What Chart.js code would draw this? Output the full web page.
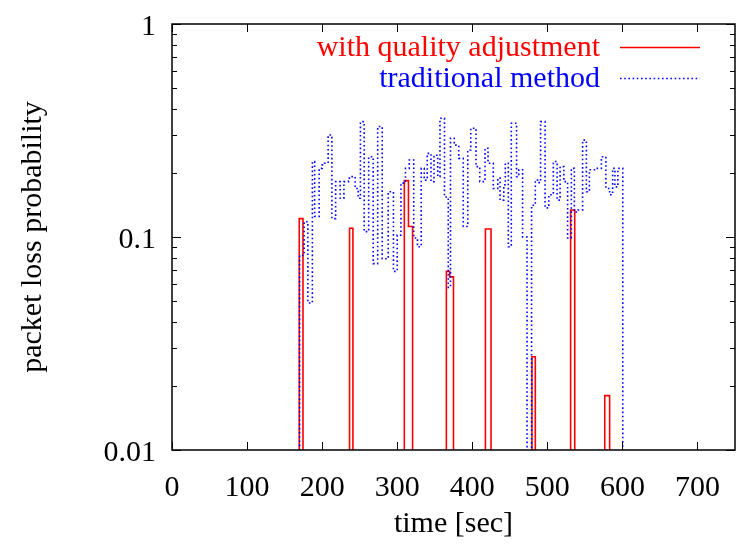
<!DOCTYPE html>
<html>
<head>
<meta charset="utf-8">
<script src="https://cdn.jsdelivr.net/npm/chart.js@4"></script>
<style>
  html, body { margin: 0; padding: 0; background: #fff; }
  #wrap { width: 736px; height: 546px; }
</style>
</head>
<body>
<div id="wrap"><canvas id="myChart" width="736" height="546"></canvas></div>
<script>
/* Data: time [sec] where a step starts, loss probability (0 = no loss) */
const red_start = [169.5, 236.5, 309.5, 315, 365.5, 370, 417.5, 479.5, 531, 576.5];
const red_end   = [174.5, 241, 315, 320.5, 370, 375, 425, 484, 536.5, 583];
const red_loss  = [0.122, 0.110, 0.184, 0.112, 0.069, 0.065, 0.109, 0.0274, 0.134, 0.018];

const blue_time = [170, 176, 181, 187, 190, 196, 200, 203, 208, 213,
                   218, 224, 229, 235, 240, 244, 248, 251, 256, 262,
                   268, 274, 280, 288, 295, 300, 305, 311, 316, 322,
                   327, 332, 336, 340, 345, 349, 354, 357, 363, 368,
                   371, 376, 382, 388, 394, 398, 405, 410, 417, 421,
                   428, 434, 437, 442, 444, 448, 452, 459, 462, 467,
                   473, 479, 484, 487, 491, 497, 502, 508, 513, 517,
                   522, 527, 532, 536, 541, 547, 552, 556, 565, 572,
                   578, 583, 587, 590, 594, 600.5];
const blue_loss = [0.082, 0.118, 0.049, 0.226, 0.125, 0.210, 0.218, 0.222, 0.301, 0.122,
                   0.182, 0.152, 0.182, 0.189, 0.192, 0.169, 0.152, 0.348, 0.106, 0.238,
                   0.075, 0.330, 0.079, 0.163, 0.069, 0.102, 0.179, 0.210, 0.230, 0.099,
                   0.090, 0.210, 0.185, 0.247, 0.182, 0.242, 0.192, 0.361, 0.154, 0.058,
                   0.291, 0.270, 0.234, 0.112, 0.256, 0.324, 0.214, 0.182, 0.261, 0.222,
                   0.169, 0.189, 0.149, 0.176, 0.222, 0.090, 0.342, 0.192, 0.207, 0.100,
                   0, 0.141, 0.185, 0.180, 0.348, 0.137, 0.158, 0.226, 0.149, 0.214,
                   0.182, 0.099, 0.210, 0.131, 0.134, 0.285, 0.163, 0.207, 0.210, 0.238,
                   0.169, 0.158, 0.210, 0.172, 0.210, 0];

const x_ticks = [0, 100, 200, 300, 400, 500, 600, 700];
const y_ticks = [0.01, 0.1, 1];
const y_tick_labels = ["0.01", "0.1", "1"];
const series_names = ["with quality adjustment", "traditional method"];

const FLOOR = 0.001; // stands in for 0 on the log axis, below the frame
const SERIF = "'Liberation Serif', 'DejaVu Serif', serif";

function redPoints(){
    let pts = [{x: 0, y: FLOOR}];
    for (let i = 0; i < red_start.length; i++){
        pts.push({x: red_start[i], y: red_loss[i]});
        if (i === red_start.length - 1 || red_start[i + 1] !== red_end[i]){
            pts.push({x: red_end[i], y: FLOOR});
        }
    }
    pts.push({x: 750, y: FLOOR});
    return pts;
}

function bluePoints(){
    let pts = [{x: 0, y: FLOOR}];
    for (let i = 0; i < blue_time.length; i++){
        pts.push({x: blue_time[i], y: blue_loss[i] || FLOOR});
    }
    pts.push({x: 750, y: FLOOR});
    return pts;
}

/* frame, inward ticks on all four sides and the gnuplot style key */
const frameTicks = {
    id: "frameTicks",
    afterDraw(chart){
        const {ctx, chartArea: a, scales: {x, y}} = chart;
        ctx.save();
        ctx.strokeStyle = "#000";
        ctx.lineWidth = 1;
        ctx.beginPath();
        x_ticks.forEach((v) => {
            const px = Math.round(x.getPixelForValue(v)) + 0.5;
            ctx.moveTo(px, a.bottom); ctx.lineTo(px, a.bottom - 8);
            ctx.moveTo(px, a.top); ctx.lineTo(px, a.top + 8);
        });
        for (let d = 0; d < y_ticks.length; d++){
            for (let m = 1; m <= 9; m++){
                if (d === y_ticks.length - 1 && m > 1) break;
                const py = Math.round(y.getPixelForValue(y_ticks[d] * m)) + 0.5;
                const len = m === 1 ? 9 : 5;
                ctx.moveTo(a.left, py); ctx.lineTo(a.left + len, py);
                ctx.moveTo(a.right, py); ctx.lineTo(a.right - len, py);
            }
        }
        ctx.stroke();
        ctx.lineWidth = 1.5;
        ctx.strokeRect(a.left, a.top, a.right - a.left, a.bottom - a.top);

        // key
        const rows = [47, 78];
        ctx.font = "30px " + SERIF;
        ctx.textAlign = "right";
        ctx.textBaseline = "middle";
        chart.data.datasets.forEach((d) => {
            const ry = rows[d.keyRow];
            ctx.fillStyle = d.borderColor;
            ctx.fillText(d.label, 600, ry + 1);
            ctx.strokeStyle = d.borderColor;
            ctx.lineWidth = d.borderWidth;
            ctx.setLineDash(d.borderDash || []);
            ctx.beginPath();
            ctx.moveTo(620, ry + 0.5);
            ctx.lineTo(700, ry + 0.5);
            ctx.stroke();
            ctx.setLineDash([]);
        });
        ctx.restore();
    }
};

const config = {
    type: "line",
    data: {
        datasets: [
            {
                label: series_names[1],
                keyRow: 1,
                data: bluePoints(),
                borderColor: "#0000ff",
                borderWidth: 1.6,
                borderDash: [1.6, 2.6],
                stepped: true,
                pointRadius: 0,
                fill: false,
            },
            {
                label: series_names[0],
                keyRow: 0,
                data: redPoints(),
                borderColor: "#ff0000",
                borderWidth: 1.6,
                stepped: true,
                pointRadius: 0,
                fill: false,
            },
        ],
    },
    options: {
        responsive: false,
        animation: false,
        events: [],
        layout: { padding: { top: 24, right: 1, left: 0, bottom: 0 } },
        plugins: { legend: { display: false }, tooltip: { enabled: false } },
        scales: {
            x: {
                type: "linear",
                min: 0,
                max: 750,
                afterBuildTicks: (s) => { s.ticks = x_ticks.map((v) => ({value: v})); },
                afterFit: (s) => { s.height = 96; s.paddingLeft = 0; s.paddingRight = 0; },
                grid: { display: false, drawTicks: false },
                border: { display: false },
                ticks: {
                    maxRotation: 0,
                    padding: 20,
                    color: "#000",
                    font: { family: SERIF, size: 30 },
                },
                title: {
                    display: true,
                    text: "time [sec]",
                    color: "#000",
                    font: { family: SERIF, size: 30 },
                    padding: { top: 0, bottom: 4 },
                },
            },
            y: {
                type: "logarithmic",
                min: 0.01,
                max: 1,
                afterBuildTicks: (s) => { s.ticks = y_ticks.map((v) => ({value: v, major: true})); },
                afterFit: (s) => { s.width = 172; s.paddingTop = 0; s.paddingBottom = 0; },
                grid: { display: false, drawTicks: false },
                border: { display: false },
                ticks: {
                    padding: 16,
                    labelOffset: 3,
                    color: "#000",
                    font: { family: SERIF, size: 30 },
                    callback: (v) => y_tick_labels[y_ticks.indexOf(v)] ?? "",
                },
                title: {
                    display: true,
                    text: "packet loss probability",
                    color: "#000",
                    font: { family: SERIF, size: 30 },
                    padding: { top: 15, bottom: 0 },
                },
            },
        },
    },
    plugins: [frameTicks],
};

const ctx = document.getElementById("myChart").getContext("2d");
const myChart = new Chart(ctx, config);
</script>
</body>
</html>
